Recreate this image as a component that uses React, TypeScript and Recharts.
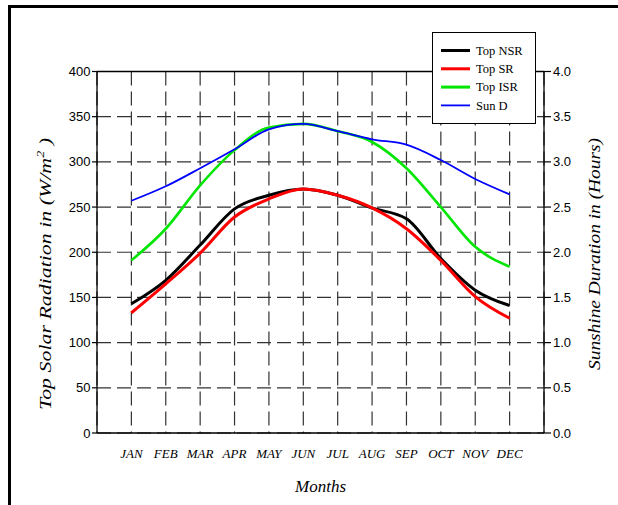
import React from 'react';
import { LineChart, Line, XAxis, YAxis, CartesianGrid, ReferenceLine, Label } from 'recharts';

const months = ['JAN', 'FEB', 'MAR', 'APR', 'MAY', 'JUN', 'JUL', 'AUG', 'SEP', 'OCT', 'NOV', 'DEC'];
const topNSR = [143, 169, 208, 248, 263, 270, 263, 249, 237, 193, 158, 141];
const topSR = [133, 165, 199, 239, 259, 270, 263, 249, 226, 191, 151, 127];
const topISR = [191, 226, 274, 313, 338, 342, 334, 322, 293, 250, 206, 184];
const sunD = [2.57, 2.73, 2.93, 3.14, 3.36, 3.42, 3.34, 3.25, 3.19, 3.02, 2.81, 2.64];

const leftTicks = [0, 50, 100, 150, 200, 250, 300, 350, 400];
const rightTicks = [0, 0.5, 1, 1.5, 2, 2.5, 3, 3.5, 4];
const xTicks = [1, 2, 3, 4, 5, 6, 7, 8, 9, 10, 11, 12];

const seriesNames = ['Top NSR', 'Top SR', 'Top ISR', 'Sun D'];
const seriesColors = ['#000000', '#ff0000', '#00e600', '#0000ff'];
const seriesWidths = [3, 3, 2.6, 1.8];

const data = months.map((m, i) => ({
  idx: i + 1,
  nsr: topNSR[i],
  sr: topSR[i],
  isr: topISR[i],
  sun: sunD[i],
}));

const keys = ['nsr', 'sr', 'isr', 'sun'];

const serif = '"Liberation Serif", "Times New Roman", serif';
const sans = '"Liberation Sans", Arial, sans-serif';

export default function App() {
  return (
    <div style={{ position: 'relative', width: 618, height: 505, overflow: 'hidden', background: '#fff' }}>
      <style>{'html,body{margin:0;padding:0;overflow:hidden;}'}</style>
      <div
        style={{
          position: 'absolute',
          left: 8,
          top: 5,
          width: 620,
          height: 510,
          borderLeft: '3px solid #000',
          borderTop: '3px solid #000',
          boxSizing: 'border-box',
        }}
      />
      <div style={{ position: 'absolute', left: 0, top: 0 }}>
        <LineChart
          width={618}
          height={505}
          data={data}
          margin={{ top: 71.5, right: 24, bottom: 42, left: 47 }}
        >
          <CartesianGrid
            yAxisId="left"
            stroke="#333"
            strokeWidth={1.2}
            strokeDasharray="14 6"
          />
          <XAxis
            dataKey="idx"
            type="number"
            domain={[0, 13]}
            ticks={xTicks}
            interval={0}
            tickFormatter={(v: number) => months[v - 1]}
            tickLine={false}
            tickSize={8}
            tickMargin={8}
            height={30}
            axisLine={{ stroke: '#000', strokeWidth: 1.3 }}
            tick={{ fill: '#000', fontSize: 13, fontFamily: serif, fontStyle: 'italic' }}
          >
            <Label
              content={() => (
                <text
                  x={320.5}
                  y={492}
                  textAnchor="middle"
                  fontFamily={serif}
                  fontStyle="italic"
                  fontSize={17}
                  fill="#000"
                >
                  Months
                </text>
              )}
            />
          </XAxis>
          <YAxis
            yAxisId="left"
            orientation="left"
            domain={[0, 400]}
            ticks={leftTicks}
            interval={0}
            width={50}
            tickSize={5}
            tickMargin={1.5}
            axisLine={{ stroke: '#000', strokeWidth: 1.3 }}
            tickLine={{ stroke: '#000', strokeWidth: 1.2 }}
            tick={{ fill: '#000', fontSize: 13, fontFamily: sans }}
          >
            <Label
              content={() => (
                <text
                  transform="translate(51, 274) rotate(-90)"
                  textAnchor="middle"
                  fontFamily={serif}
                  fontStyle="italic"
                  fontSize={17}
                  fill="#000"
                  textLength={272}
                  lengthAdjust="spacingAndGlyphs"
                >
                  Top Solar Radiation in (W/m
                  <tspan dy={-7} fontSize={11}>2</tspan>
                  <tspan dy={7}> )</tspan>
                </text>
              )}
            />
          </YAxis>
          <YAxis
            yAxisId="right"
            orientation="right"
            domain={[0, 4]}
            ticks={rightTicks}
            interval={0}
            width={50}
            tickSize={7}
            tickMargin={2}
            tickFormatter={(v: number) => v.toFixed(1)}
            axisLine={{ stroke: '#000', strokeWidth: 1.3 }}
            tickLine={{ stroke: '#000', strokeWidth: 1.2 }}
            tick={{ fill: '#000', fontSize: 13, fontFamily: sans }}
          >
            <Label
              content={() => (
                <text
                  transform="translate(600, 254) rotate(-90)"
                  textAnchor="middle"
                  fontFamily={serif}
                  fontStyle="italic"
                  fontSize={16}
                  fill="#000"
                  textLength={232}
                  lengthAdjust="spacingAndGlyphs"
                >
                  Sunshine Duration in (Hours)
                </text>
              )}
            />
          </YAxis>
          <ReferenceLine yAxisId="left" y={400} stroke="#000" strokeWidth={1.3} />
          {keys.map((k, i) => (
            <Line
              key={k}
              yAxisId={k === 'sun' ? 'right' : 'left'}
              type="monotone"
              dataKey={k}
              name={seriesNames[i]}
              stroke={seriesColors[i]}
              strokeWidth={seriesWidths[i]}
              dot={false}
              activeDot={false}
              isAnimationActive={false}
            />
          ))}
        </LineChart>
      </div>
      <div
        style={{
          position: 'absolute',
          left: 432,
          top: 32,
          width: 104,
          height: 92,
          background: '#fff',
          border: '1px solid #000',
          boxSizing: 'border-box',
        }}
      >
        <svg width={102} height={90} style={{ display: 'block' }}>
          {seriesNames.map((n, i) => (
            <g key={n}>
              <line
                x1={8}
                x2={37}
                y1={17.5 + i * 18.3}
                y2={17.5 + i * 18.3}
                stroke={seriesColors[i]}
                strokeWidth={i === 3 ? 1.8 : 3}
              />
              <text
                x={43}
                y={17.5 + i * 18.3}
                dy="0.35em"
                style={{ fontFamily: serif, fontSize: 12.5 }}
                fill="#000"
              >
                {n}
              </text>
            </g>
          ))}
        </svg>
      </div>
    </div>
  );
}
